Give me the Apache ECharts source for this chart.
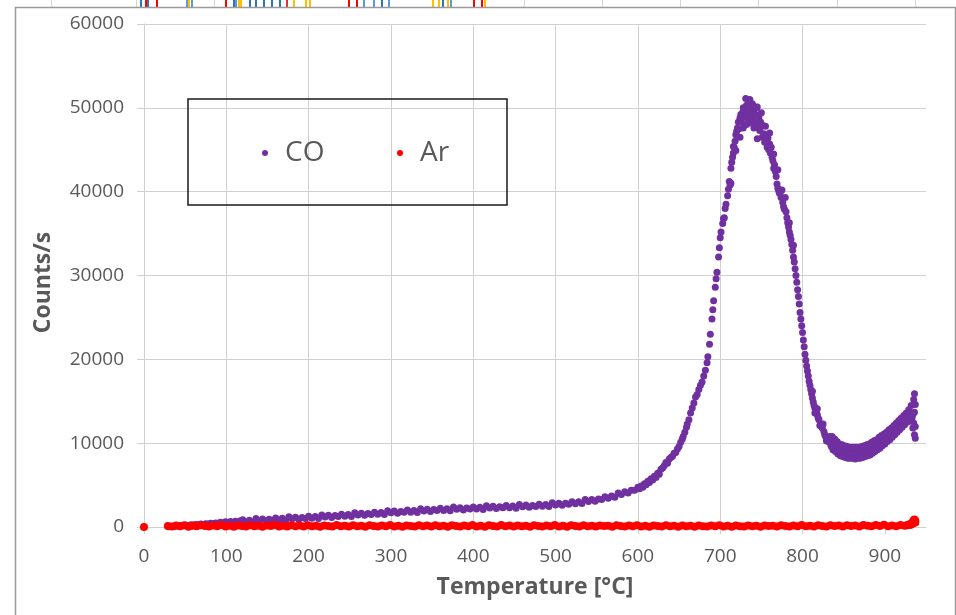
<!DOCTYPE html>
<html>
<head>
<meta charset="utf-8">
<script src="https://cdn.jsdelivr.net/npm/echarts@6/dist/echarts.min.js"></script>
<style>
  html, body { margin: 0; padding: 0; background: #fff; }
  #chart { width: 956px; height: 615px; }
</style>
</head>
<body>
<div id="chart"></div>
<script>
// CO signal, [temperature °C, counts/s]
const co = [
  [30,40],[33,90],[36,60],[39,130],[42,110],[45,180],[48,140],[51,220],[54,190],[57,260],
  [60,230],[63,310],[66,270],[69,350],[72,310],[75,400],[78,360],[81,450],[84,400],[87,490],
  [90,440],[93,560],[96,460],[99,620],[102,520],[105,660],[108,550],[111,690],[114,580],[117,740],
  [120,850],[124,604],[128,808],[132,572],[136,1016],[140,760],[144,962],[148,704],[152,926],[156,808],
  [160,1080],[164,830],[168,1030],[172,790],[176,1230],[180,970],[184,1170],[188,910],[192,1130],[196,1010],
  [200,1280],[204,1034],[208,1238],[212,1002],[216,1446],[220,1190],[224,1396],[228,1142],[232,1368],[236,1254],
  [240,1530],[244,1284],[248,1488],[252,1252],[256,1696],[260,1440],[264,1644],[268,1388],[272,1612],[276,1496],
  [280,1770],[284,1526],[288,1732],[292,1498],[296,1944],[300,1690],[304,1894],[308,1638],[312,1862],[316,1746],
  [320,2020],[324,1772],[328,1974],[332,1736],[336,2178],[340,1920],[344,2120],[348,1860],[352,2080],[356,1960],
  [360,2230],[364,1978],[368,2176],[372,1934],[376,2372],[380,2110],[384,2306],[388,2042],[392,2258],[396,2134],
  [400,2400],[404,2146],[408,2342],[412,2098],[416,2534],[420,2270],[424,2464],[428,2198],[432,2412],[436,2286],
  [440,2550],[444,2296],[448,2492],[452,2248],[456,2684],[460,2420],[464,2618],[468,2356],[472,2574],[476,2452],
  [480,2720],[484,2472],[488,2674],[492,2436],[496,2878],[500,2620],[504,2834],[508,2588],[512,2822],[516,2716],
  [520,3000],[524,2780],[528,3010],[532,2800],[536,3270],[540,3040],[544,3290],[548,3080],[552,3350],[556,3280],
  [560,3600],[564,3430],[568,3710],[572,3550],[576,4070],[580,3890],[584,4200],[588,4050],[592,4380],[596,4370],
  [600,4750],[602,4560],[604,4900],[606,4750],[608,5150],[610,5050],[612,5450],[614,5300],[616,5750],[618,5600],
  [620,6050],[622,5900],[624,6400],[626,6300],[628,6900],[630,7050],[632,7300],[634,7700],[636,7600],[638,8100],
  [640,8300],[642,8450],[644,8800],[646,8900],[648,9300],[650,9600],[652,10100],[654,10500],[655,10800],[657,11300],
  [659,11900],[660,12300],[662,12800],[664,13600],[666,14200],[668,14800],[670,15500],[672,15800],[674,16400],[676,16900],
  [678,17300],[680,18000],[682,18700],[684,19600],[685,20300],[687,21800],[688,23000],[690,24800],[691,25900],[692,27000],
  [694,28600],[695,29600],[696,30400],[698,32200],[699,33300],[700,34500],[701,35200],[703,36200],[704,36800],[705,36900],
  [706,38000],[707,38500],[709,39500],[710,40300],[711,41200],[712,40800],[713,42800],[713,41000],[714,43500],[715,44100],
  [716,44600],[716,45400],[717,45300],[718,46000],[719,46800],[719,44900],[720,47200],[721,47600],[722,48300],[723,47500],
  [724,48800],[724,46500],[725,49200],[726,48300],[727,49400],[728,50000],[728,47600],[729,48900],[730,49600],[731,51100],
  [732,50300],[732,48000],[733,49300],[734,48700],[735,50200],[736,49000],[736,51000],[737,48200],[738,49700],[739,50500],
  [740,48800],[741,47600],[741,50200],[742,49300],[743,48200],[744,50000],[745,50100],[745,46300],[746,47800],[747,48900],
  [748,47300],[749,48300],[750,47800],[750,49400],[751,46500],[752,47900],[753,46900],[754,45900],[755,46700],[755,47800],
  [756,46200],[757,45300],[758,46400],[759,45000],[760,45700],[760,47000],[761,44600],[762,45300],[763,44100],[764,43700],
  [765,42800],[765,44500],[766,43200],[767,42400],[768,41800],[769,40900],[770,40400],[770,42600],[771,40100],[772,39800],
  [773,39900],[774,39300],[775,40200],[776,38700],[777,38200],[778,37900],[779,39300],[780,37600],[781,36900],[782,36300],
  [783,35800],[784,35200],[784,36300],[785,34800],[786,34300],[787,33700],[788,33000],[789,32200],[789,33600],[790,31600],
  [791,30800],[792,30000],[793,29200],[794,28300],[795,27500],[796,26600],[797,25600],[798,24800],[799,24000],[800,23200],
  [801,22300],[802,21500],[803,20600],[804,19900],[805,19200],[806,18600],[807,18000],[808,17400],[809,16900],[810,16400],
  [811,15900],[812,15400],[812,16200],[813,14900],[814,14500],[815,14200],[815,13600],[816,13900],[817,13600],[818,13400],
  [818,14100],[819,13000],[820,12800],[821,12100],[822,12300],[823,12000],[824,11800],[825,12300],[826,11400],[827,11000],
  [828,10800],[829,10300],[830,10500],[831,10200],[832,10400],[833,10800],[834,9900],[835,9600],
  [836,10800],[837,9200],[838,9900],[839,10500],[840,9000],[841,9600],[842,10200],[843,8700],[844,9400],
  [845,9900],[846,8500],[847,9200],[848,9800],[849,8400],[850,9000],[851,9700],[852,8300],[853,8900],
  [854,9600],[855,8200],[856,8900],[857,9500],[858,8200],[859,8800],[860,9500],[861,8200],[862,8800],
  [863,9500],[864,8100],[865,8800],[866,9500],[867,8200],[868,8800],[869,9500],[870,8200],[871,8900],
  [872,9600],[873,8300],[874,8900],[875,9700],[876,8400],[877,9000],[878,9800],[879,8500],[880,9100],
  [881,9900],[882,8600],[883,9300],[884,10100],[885,8800],[886,9400],[887,10300],[888,9000],[889,9600],
  [890,10400],[891,9200],[892,9800],[893,10700],[894,9400],[895,10000],[896,10900],[897,9700],[898,10300],
  [899,11100],[900,9900],[901,10500],[902,11300],[903,10200],[904,10700],[905,11600],[906,10400],[907,11000],
  [908,11800],[909,10700],[910,11200],[911,12100],[912,11000],[913,11500],[914,12400],[915,11300],[916,11800],
  [917,12700],[918,11600],[919,12100],[920,13000],[921,11900],[922,12400],[923,13300],[924,12200],[925,12700],
  [926,13600],[927,12500],[928,13000],[929,14000],[930,12700],[931,13500],[932,14500],[933,13000],
  [934,11800],[934,13400],[935,15200],[935,12400],[936,15900],[936,11000],[936,13700],[937,14600],[937,12000],[937,10600]
];

// Ar signal, [temperature °C, counts/s]
const ar = [
  [0,0],
  [29,110],[34,60],[39,170],[44,90],[49,200],[54,40],[59,140],[64,80],[69,210],[74,110],
  [79,50],[84,180],[89,100],[94,230],[99,70],[104,150],[109,30],[114,190],[119,120],[124,60],
  [129,210],[134,90],[139,160],[144,40],[149,180],[154,110],[159,240],[164,70],[169,150],[174,50],
  [179,200],[184,100],[189,170],[194,60],[199,220],[204,90],[209,140],[214,30],[219,190],[224,120],
  [229,70],[234,230],[239,100],[244,160],[249,50],[254,200],[259,80],[264,150],[269,40],[274,210],
  [279,120],[284,60],[289,180],[294,90],[299,240],[304,70],[309,140],[314,40],[319,190],[324,110],
  [329,60],[334,220],[339,100],[344,170],[349,50],[354,200],[359,80],[364,150],[369,30],[374,210],
  [379,120],[384,70],[389,190],[394,100],[399,250],[404,60],[409,160],[414,40],[419,200],[424,110],
  [429,70],[434,230],[439,90],[444,170],[449,50],[454,190],[459,100],[464,150],[469,40],[474,220],
  [479,110],[484,60],[489,180],[494,90],[499,230],[504,70],[509,150],[514,40],[519,200],[524,120],
  [529,60],[534,210],[539,90],[544,160],[549,50],[554,190],[559,110],[564,140],[569,30],[574,200],
  [579,120],[584,70],[589,180],[594,90],[599,220],[604,60],[609,150],[614,40],[619,190],[624,110],
  [629,70],[634,200],[639,100],[644,160],[649,40],[654,180],[659,90],[664,150],[669,30],[674,190],
  [679,100],[684,60],[689,170],[694,80],[699,210],[704,50],[709,140],[714,30],[719,180],[724,100],
  [729,60],[734,190],[739,90],[744,150],[749,40],[754,180],[759,110],[764,140],[769,50],[774,200],
  [779,120],[784,70],[789,190],[794,100],[799,230],[804,80],[809,160],[814,50],[819,210],[824,120],
  [829,70],[834,220],[839,110],[844,170],[849,60],[854,210],[859,120],[864,180],[869,70],[874,230],
  [879,140],[884,90],[889,240],[894,130],[899,260],[904,100],[909,190],[914,80],[919,250],[924,150],
  [927,210],[929,300],[931,250],[932,420],[933,350],[934,600],[935,480],[935,800],[936,650],[936,900],
  [937,550],[937,750]
];

const xTicks = [0, 100, 200, 300, 400, 500, 600, 700, 800, 900];

// bits of the spreadsheet showing above the chart frame
const sheetLines = [51, 136, 214, 524, 602, 680, 758, 837, 915];
const sheetBars = [
  [141,'#2e75b6'],[146,'#ff0000'],[148,'#2e75b6'],[157,'#ff0000'],[187,'#5b9bd5'],[189,'#ffc000'],[192,'#5b9bd5'],
  [226,'#ff0000'],[234,'#2e75b6'],[236,'#5b9bd5'],[239,'#ffc000'],[241,'#ffc000'],[250,'#2e75b6'],[256,'#2e75b6'],
  [264,'#2e75b6'],[272,'#2e75b6'],[280,'#2e75b6'],[287,'#e03030'],[294,'#ffc000'],[306,'#ffc000'],[310,'#ffc000'],
  [349,'#ff0000'],[357,'#ff0000'],[364,'#5b9bd5'],[374,'#5b9bd5'],[382,'#2e75b6'],[389,'#5b9bd5'],
  [433,'#ffc000'],[439,'#ffc000'],[443,'#2e75b6'],[448,'#ffc000'],[451,'#5b9bd5'],[474,'#ff0000'],[482,'#ff0000'],[485,'#ffc000']
];

const FONT = 'Open Sans';
const grey = '#595959';
const gridGrey = '#d0d0d0';

let chart = echarts.init(document.getElementById('chart'), null, { renderer: 'canvas' });

let graphics = [];
sheetLines.forEach(x => graphics.push({
  type: 'line', shape: { x1: x + 0.5, y1: 0, x2: x + 0.5, y2: 7 },
  style: { stroke: '#d6d6d6', lineWidth: 1 }, silent: true
}));
sheetBars.forEach(b => graphics.push({
  type: 'line', shape: { x1: b[0], y1: 0, x2: b[0], y2: 7 },
  style: { stroke: b[1], lineWidth: 2 }, silent: true
}));
// chart frame
graphics.push({
  type: 'rect', shape: { x: 15.5, y: 7.5, width: 940, height: 640 },
  style: { fill: 'none', stroke: '#9a9a9a', lineWidth: 1.5 }, silent: true
});
// legend box
graphics.push({
  type: 'rect', shape: { x: 188, y: 99, width: 319, height: 106 },
  style: { fill: 'none', stroke: '#1a1a1a', lineWidth: 1.5 }, silent: true, z: 10
});

let legendText = { color: grey, fontSize: 28, fontFamily: FONT };

let option = {
  animation: false,
  backgroundColor: '#fff',
  textStyle: { fontFamily: FONT },
  graphic: graphics,
  grid: { left: 144, right: 30, top: 24, bottom: 88 },
  legend: [
    { data: ['CO'], left: 257, top: 134, itemWidth: 30, itemHeight: 6, textStyle: legendText },
    { data: ['Ar'], left: 392, top: 134, itemWidth: 30, itemHeight: 6, textStyle: legendText }
  ],
  xAxis: {
    type: 'value',
    min: 0,
    max: 950,
    interval: 100,
    name: 'Temperature [°C]',
    nameLocation: 'middle',
    nameGap: 49,
    nameTextStyle: { color: grey, fontSize: 23, fontWeight: 'bold', fontFamily: FONT },
    axisLine: { show: true, lineStyle: { color: gridGrey, width: 1 } },
    axisTick: { show: true, length: 7, customValues: xTicks, lineStyle: { color: gridGrey } },
    axisLabel: { color: grey, fontSize: 19, margin: 20, customValues: xTicks, fontFamily: FONT },
    splitLine: { show: true, showMaxLine: false, lineStyle: { color: gridGrey, width: 1 } }
  },
  yAxis: {
    type: 'value',
    min: 0,
    max: 60000,
    interval: 10000,
    name: 'Counts/s',
    nameLocation: 'middle',
    nameRotate: 90,
    nameGap: 89,
    nameTextStyle: { color: grey, fontSize: 23, fontWeight: 'bold', fontFamily: FONT, padding: [0, 14, 0, 0] },
    axisLine: { show: true, lineStyle: { color: gridGrey, width: 1 } },
    axisTick: { show: true, length: 7, lineStyle: { color: gridGrey } },
    axisLabel: { color: grey, fontSize: 19, margin: 20, fontFamily: FONT, formatter: v => String(v) },
    splitLine: { show: true, lineStyle: { color: gridGrey, width: 1 } }
  },
  series: [
    { name: 'CO', type: 'scatter', data: co, symbolSize: 7, itemStyle: { color: '#7030a0', opacity: 1 } },
    { name: 'Ar', type: 'scatter', data: ar, symbolSize: 8, itemStyle: { color: '#ff0000', opacity: 1 } }
  ]
};
chart.setOption(option);
</script>
</body>
</html>
